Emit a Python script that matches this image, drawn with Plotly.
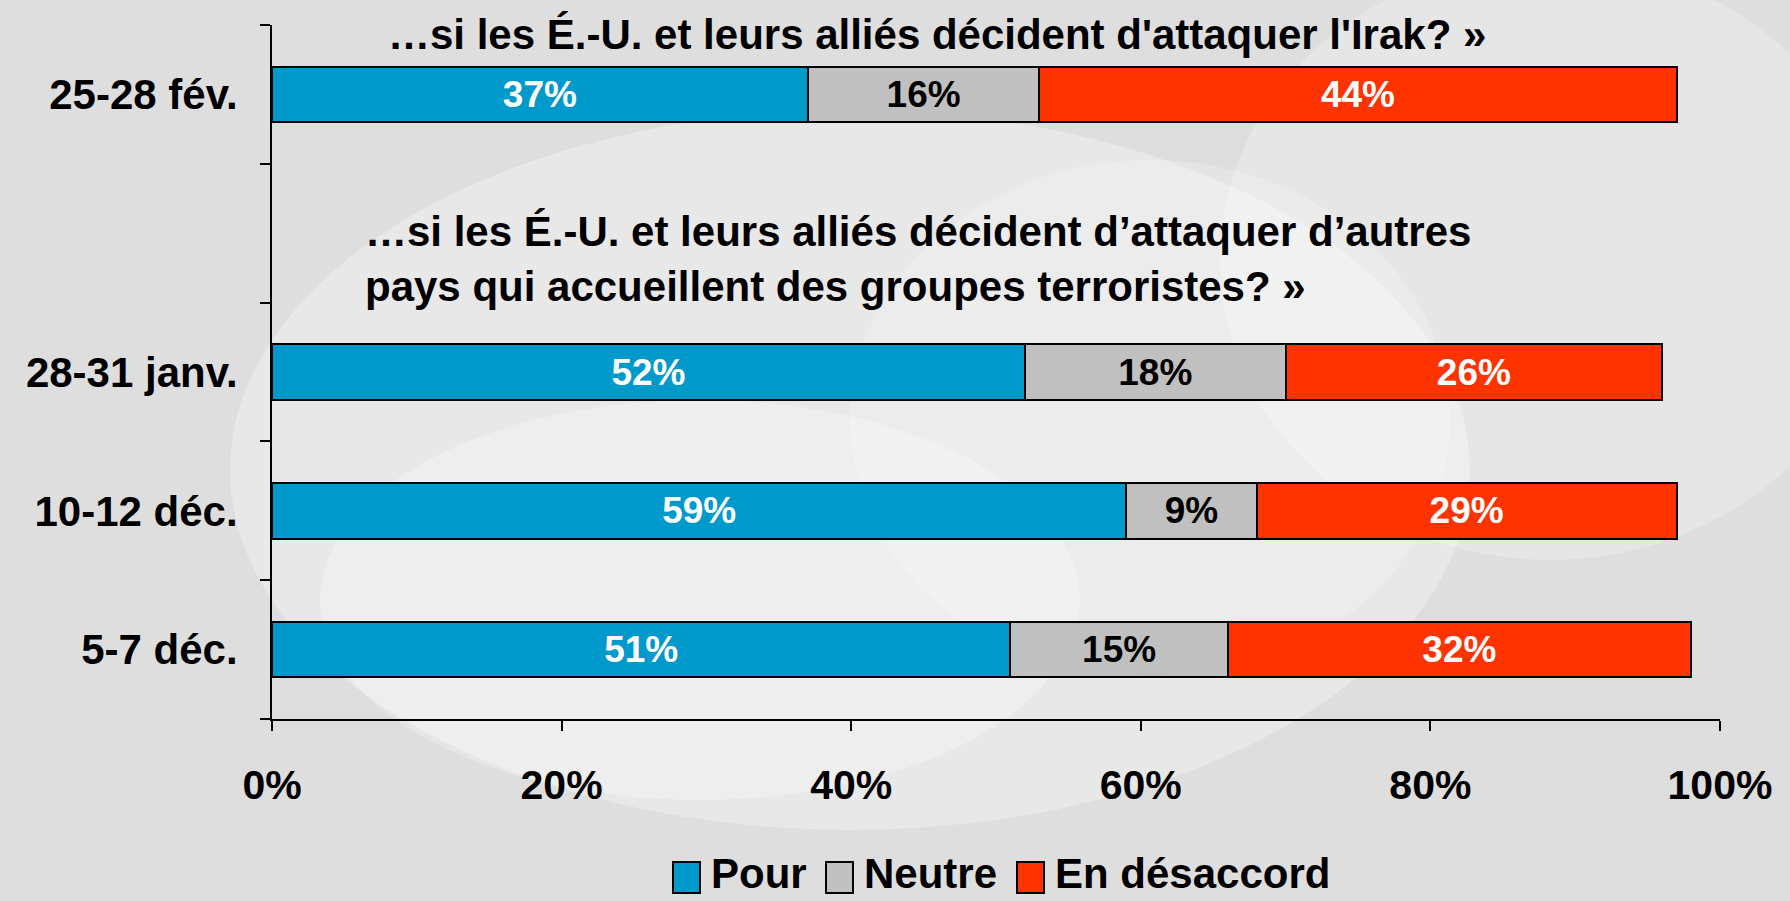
import plotly.graph_objects as go

# ---- data ----
categories = ["5-7 déc.", "10-12 déc.", "28-31 janv.", " ", "25-28 fév."]
pour = [51, 59, 52, None, 37]
neutre = [15, 9, 18, None, 16]
desaccord = [32, 29, 26, None, 44]
series_names = ["Pour", "Neutre", "En désaccord"]
series_colors = ["#0099CC", "#C0C0C0", "#FF3300"]
label_colors = ["white", "black", "white"]
x_ticks = [0, 20, 40, 60, 80, 100]
x_tick_labels = ["0%", "20%", "40%", "60%", "80%", "100%"]
title_irak = "…si les É.-U. et leurs alliés décident d'attaquer l'Irak? »"
title_autres = "…si les É.-U. et leurs alliés décident d’attaquer d’autres<br>pays qui accueillent des groupes terroristes? »"

FONT = "Liberation Sans, Arial, sans-serif"

fig = go.Figure()
for name, vals, col, lcol in zip(series_names, [pour, neutre, desaccord], series_colors, label_colors):
    fig.add_trace(go.Bar(
        y=categories, x=vals, name=name, orientation="h",
        marker=dict(color=col, line=dict(color="black", width=2)),
        text=[f"{v}%" if v is not None else "" for v in vals],
        textposition="inside", insidetextanchor="middle",
        textfont=dict(family=FONT, size=37, color=lcol, weight="bold"),
        showlegend=False, hoverinfo="skip",
    ))

# plot area geometry (pixels) for annotation placement
L, R, T, B = 272, 70, 25, 182
W, H = 1790, 901
pw, ph = W - L - R, H - T - B

def px_x(x):
    return (x - L) / pw

def px_y(y):
    return (H - B - y) / ph

annotations = [
    dict(text=title_irak, x=px_x(937), y=px_y(34), xref="paper", yref="paper",
         xanchor="center", yanchor="middle", showarrow=False,
         font=dict(family=FONT, size=42, color="black", weight="bold")),
    dict(text=title_autres, x=px_x(363), y=px_y(259), xref="paper", yref="paper",
         xanchor="left", yanchor="middle", align="left", showarrow=False,
         font=dict(family=FONT, size=42, color="black", weight="bold")),
]

shapes = []
# soft background swooshes (decorative)
for cx, cy, rx, ry, op in [(850, 470, 620, 360, 0.30), (1550, 260, 330, 300, 0.25),
                           (700, 600, 380, 200, 0.25), (1150, 420, 300, 260, 0.20)]:
    shapes.append(dict(type="circle", xref="paper", yref="paper", layer="below",
                       x0=px_x(cx - rx), x1=px_x(cx + rx), y0=px_y(cy + ry), y1=px_y(cy - ry),
                       fillcolor="white", opacity=op, line=dict(width=0)))

# manual legend
legend_items = [(673, 712), (826, 865), (1017, 1056)]
for (sx, tx), name, col in zip(legend_items, series_names, series_colors):
    shapes.append(dict(type="rect", xref="paper", yref="paper",
                       x0=px_x(sx), x1=px_x(sx + 27), y0=px_y(862), y1=px_y(893),
                       fillcolor=col, line=dict(color="black", width=2)))
    annotations.append(dict(text=name, x=px_x(tx - 3), y=px_y(873), xref="paper", yref="paper",
                            xanchor="left", yanchor="middle", showarrow=False,
                            font=dict(family=FONT, size=42, color="black", weight="bold")))

fig.update_layout(
    barmode="stack",
    bargap=0.6,
    width=W, height=H,
    margin=dict(l=L, r=R, t=T, b=B, pad=0),
    paper_bgcolor="#dedede",
    plot_bgcolor="rgba(0,0,0,0)",
    showlegend=False,
    annotations=annotations,
    shapes=shapes,
    font=dict(family=FONT, color="black"),
)
fig.update_xaxes(
    range=[0, 100], tickvals=x_ticks, ticktext=x_tick_labels,
    showgrid=False, zeroline=False,
    showline=True, linecolor="black", linewidth=2,
    ticks="outside", ticklen=10, tickwidth=2, tickcolor="black",
    tickfont=dict(family=FONT, size=41, color="black", weight="bold"),
    ticklabelstandoff=19,
)
fig.update_yaxes(
    type="category", categoryorder="array", categoryarray=categories,
    range=[-0.5, 4.5], tickson="boundaries",
    showgrid=False, zeroline=False,
    showline=True, linecolor="black", linewidth=2,
    ticks="outside", ticklen=10, tickwidth=2, tickcolor="black",
    tickfont=dict(family=FONT, size=42, color="black", weight="bold"),
    ticklabelstandoff=24,
)

fig.write_html("out.html", config={"displayModeBar": False},
               post_script="document.body.style.margin='0px';document.body.style.overflow='hidden';")
